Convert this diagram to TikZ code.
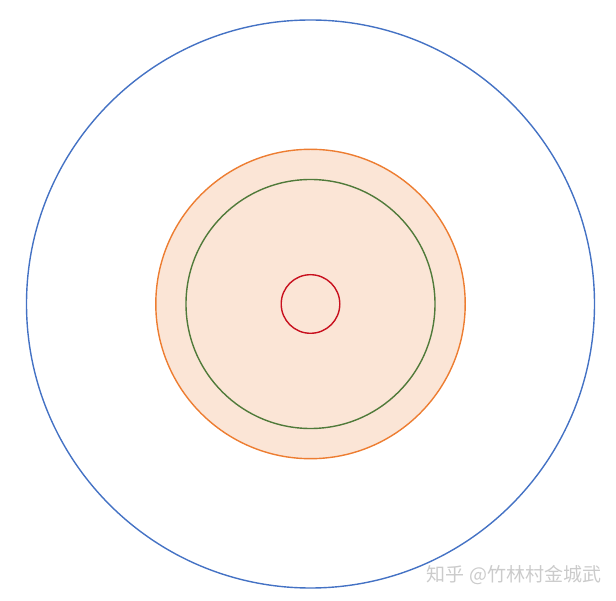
\documentclass[tikz,border=0pt]{standalone}
\usepackage{fontspec}
\newfontfamily\cjk{Noto Sans CJK SC}
\usepackage{tikz}
\definecolor{ringblue}{HTML}{4472C4}
\definecolor{ringorange}{HTML}{ED7D31}
\definecolor{ringfill}{HTML}{FBE5D6}
\definecolor{ringgreen}{HTML}{507A3A}
\definecolor{ringred}{HTML}{C8101E}
\definecolor{markgrey}{HTML}{CBCBCB}

\begin{document}
\begin{tikzpicture}[x=1pt, y=1pt, line width=1.4pt]
		%%%%% START %%%%%
		\useasboundingbox (0, 0) rectangle (616, 600);
		\coordinate (centre) at (310.5, 296);
		
		\draw[ringblue] (centre) circle (284pt);
		
		\draw[ringorange, fill=ringfill] (centre) circle (154.7pt);
		\draw[ringgreen] (centre) circle (124.5pt);
		
		\draw[ringred] (centre) circle (29.3pt);
		
		\node[text=markgrey, font=\cjk\fontsize{19}{19}\selectfont, inner sep=0pt] (mark) at (514, 25) {知乎 @竹林村金城武};
		%%%%% END %%%%%
	\end{tikzpicture}
\end{document}
